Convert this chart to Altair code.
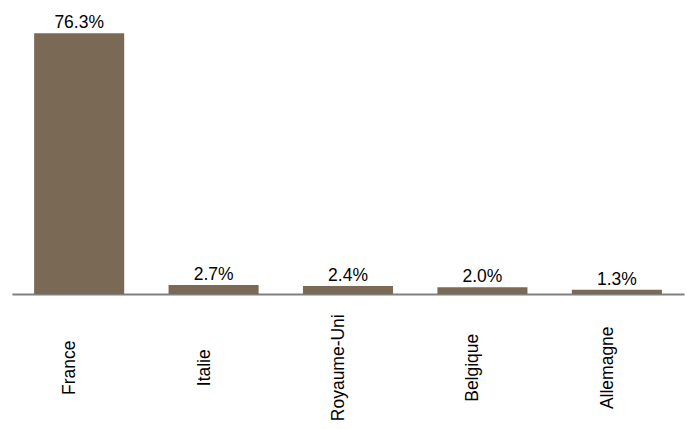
import altair as alt
import pandas as pd

countries = ["France", "Italie", "Royaume-Uni", "Belgique", "Allemagne"]
shares = [76.3, 2.7, 2.4, 2.0, 1.3]

df = pd.DataFrame({"pays": countries, "part": shares})

FONT = "Liberation Sans"
BAR = "#7a6a55"

x = alt.X(
    "pays:N",
    sort=countries,
    scale=alt.Scale(paddingInner=0.33, paddingOuter=0.165),
    axis=alt.Axis(
        title=None,
        labelAngle=270,
        labelAlign="center",
        labelBaseline="bottom",
        labelPadding=74,
        ticks=False,
        tickSize=0,
        labelFont=FONT,
        labelFontSize=17.7,
        labelColor="#000000",
        domainColor="#808080",
        domainWidth=2,
        grid=False,
    ),
)
y = alt.Y("part:Q", scale=alt.Scale(domain=[0, 76.3], nice=False, zero=True), axis=None)

base = alt.Chart(df)
bars = base.mark_bar(color=BAR).encode(x=x, y=y)
labels = base.transform_calculate(
    lab="format(datum.part, '.1f') + '%'"
).mark_text(
    font=FONT, fontSize=17.7, color="#000000", baseline="alphabetic", dy=-5
).encode(x=alt.X("pays:N", sort=countries), y=y, text="lab:N")

chart = alt.layer(bars, labels).properties(
    width=680,
    height=264,
    background="white",
    autosize=alt.AutoSizeParams(type="none"),
    padding={"left": 4, "top": 23, "right": 6, "bottom": 134},
).configure_view(stroke="transparent", strokeWidth=0)

chart.save("out.html", embed_options={"renderer": "svg", "actions": False})
